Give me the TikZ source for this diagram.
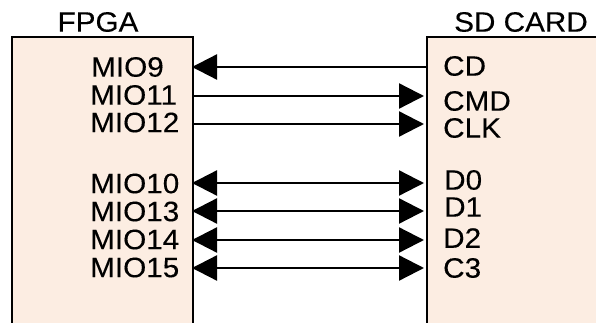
\documentclass[tikz,border=0pt]{standalone}
\usepackage{fontspec}
\setmainfont{Liberation Sans}
\newfontfamily\lblfont[FakeStretch=1.06,FakeBold=0.25]{Liberation Sans}
\usetikzlibrary{arrows.meta}
\definecolor{chipfill}{HTML}{FCEDE2}
\tikzset{
  chip/.style={draw=black, line width=2.4pt, fill=chipfill},
  pin/.style={font=\lblfont\fontsize{28}{28}\selectfont, inner sep=0pt, anchor=west},
  title/.style={font=\lblfont\fontsize{28}{28}\selectfont, inner sep=0pt},
  head/.tip={Triangle[length=25pt,width=25pt]},
  sig/.style={line width=2.3pt, -{head}},
  bisig/.style={line width=2.3pt, {head}-{head}}
}
\begin{document}
\begin{tikzpicture}[x=1pt, y=-1pt]
\useasboundingbox (0,0) rectangle (596,323);
\begin{scope}
\clip (0,0) rectangle (596,323);
% the two devices; both continue below the lower edge
\draw[chip] (12,37) rectangle (193,340);
\draw[chip] (427,37) rectangle (620,340);
\end{scope}

% device titles
\node[title] (fpga) at (98,22) {FPGA};
\node[title] (sd) at (521,22) {SD CARD};

% FPGA pin names
\node[pin] (mio9)  at (91,67)    {MIO9};
\node[pin] (mio11) at (90,95)    {MIO11};
\node[pin] (mio12) at (90,122.5) {MIO12};
\node[pin] (mio10) at (90,183.5) {MIO10};
\node[pin] (mio13) at (90,211.5) {MIO13};
\node[pin] (mio14) at (90,239.5) {MIO14};
\node[pin] (mio15) at (90,267.5) {MIO15};

% SD card pin names
\node[pin] (cd)  at (443,66)  {CD};
\node[pin] (cmd) at (443,101) {CMD};
\node[pin] (clk) at (443,128) {CLK};
\node[pin] (d0)  at (444,180) {D0};
\node[pin] (d1)  at (444,207) {D1};
\node[pin] (d2)  at (443,238) {D2};
\node[pin] (c3)  at (443,268) {C3};

% connection ends on the device edges
\foreach \n/\y in {a/67, b/96, c/124, d/183, e/211, f/240, g/268} {
  \coordinate (L\n) at (192,\y);
  \coordinate (R\n) at (427,\y);
}

% signals
\draw[sig] (Ra) -- (La);
\draw[sig] (Lb) -- ([xshift=-3pt]Rb);
\draw[sig] (Lc) -- ([xshift=-3pt]Rc);
\draw[bisig] (Ld) -- ([xshift=-3pt]Rd);
\draw[bisig] (Le) -- ([xshift=-3pt]Re);
\draw[bisig] (Lf) -- ([xshift=-3pt]Rf);
\draw[bisig] (Lg) -- ([xshift=-3pt]Rg);
\end{tikzpicture}
\end{document}
